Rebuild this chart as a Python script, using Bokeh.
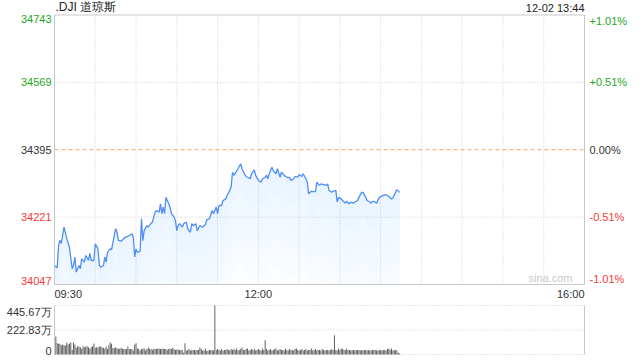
import numpy as np
from bokeh.plotting import figure
from bokeh.models import Label, Range1d, Grid
from bokeh.embed import file_html
from bokeh.resources import INLINE

# ---------------- data ----------------
minutes = [0, 2, 3, 4, 5, 7, 9, 11, 13, 14, 15, 16, 18, 19, 20, 22, 23, 25, 26, 27,
           29, 30, 32, 33, 34, 36, 37, 38, 39, 41, 42, 44, 45, 46, 47, 49, 50, 52, 54, 57,
           58, 59, 60, 61, 63, 64, 65, 66, 68, 69, 71, 72, 74, 75, 77, 78, 79, 80, 81, 82,
           83, 85, 86, 88, 89, 90, 91, 92, 94, 95, 97, 98, 100, 101, 102, 104, 105, 107, 109, 111,
           112, 114, 116, 117, 119, 120, 121, 123, 124, 126, 127, 129, 130, 131, 132, 134, 135, 137, 138, 140,
           141, 142, 144, 145, 147, 148, 150, 152, 153, 155, 156, 157, 158, 160, 161, 163, 164, 166, 167, 168,
           170, 171, 173, 174, 176, 177, 179, 180, 182, 183, 185, 186, 187, 189, 190, 192, 193, 195, 196, 198,
           200, 201, 202, 204, 205, 207, 208, 209, 211, 212, 214, 215, 217, 218, 220, 221, 223, 224, 226, 227,
           229, 230, 232, 233, 234, 236, 237, 239, 240, 242, 243, 245, 246, 248, 249, 251, 252, 254]
prices = [34096, 34090, 34148, 34161, 34153, 34195, 34166, 34143, 34088, 34096, 34118, 34079, 34096, 34088, 34114, 34105, 34122, 34109, 34128, 34109,
          34109, 34152, 34139, 34096, 34092, 34096, 34118, 34105, 34130, 34139, 34137, 34174, 34191, 34182, 34161, 34159, 34162, 34169, 34171, 34178,
          34169, 34118, 34139, 34130, 34133, 34217, 34160, 34186, 34199, 34195, 34205, 34208, 34234, 34238, 34234, 34255, 34230, 34247, 34230, 34272,
          34264, 34247, 34230, 34221, 34212, 34186, 34199, 34204, 34195, 34204, 34208, 34191, 34182, 34204, 34199, 34204, 34186, 34199, 34195, 34202,
          34214, 34217, 34238, 34230, 34247, 34230, 34251, 34251, 34264, 34268, 34277, 34290, 34300, 34337, 34329, 34340, 34346, 34359, 34346, 34331,
          34326, 34324, 34320, 34333, 34343, 34329, 34316, 34311, 34320, 34324, 34329, 34320, 34333, 34350, 34341, 34333, 34346, 34324, 34337, 34333,
          34326, 34324, 34323, 34316, 34320, 34326, 34324, 34331, 34326, 34333, 34320, 34311, 34281, 34288, 34287, 34287, 34311, 34303, 34307, 34305,
          34303, 34307, 34290, 34285, 34288, 34290, 34260, 34272, 34268, 34264, 34257, 34262, 34255, 34260, 34257, 34260, 34264, 34272, 34285, 34285,
          34272, 34264, 34260, 34257, 34262, 34260, 34257, 34272, 34274, 34277, 34279, 34277, 34274, 34268, 34271, 34285, 34292, 34285]

# volume per minute, in 万
volumes = [164, 103, 97, 97, 85, 91, 85, 82, 109, 91, 100, 109, 42, 109, 91, 61, 76, 73, 67, 52,
           76, 67, 73, 76, 67, 52, 67, 76, 100, 61, 67, 64, 73, 73, 67, 58, 52, 73, 49, 85,
           109, 97, 58, 58, 64, 58, 49, 55, 58, 52, 49, 49, 49, 73, 49, 49, 49, 36, 91, 103,
           55, 52, 36, 49, 52, 55, 36, 49, 64, 52, 49, 42, 49, 49, 49, 55, 52, 49, 49, 55,
           49, 49, 42, 49, 55, 49, 61, 49, 42, 45, 45, 42, 42, 42, 15, 103, 36, 42, 49, 36,
           42, 42, 42, 36, 42, 42, 64, 49, 36, 36, 55, 33, 33, 42, 42, 42, 36, 445, 42, 49,
           42, 36, 49, 36, 42, 42, 49, 42, 36, 49, 42, 49, 42, 55, 36, 42, 49, 61, 42, 42,
           49, 55, 36, 42, 49, 42, 52, 36, 42, 49, 42, 36, 55, 42, 130, 49, 36, 42, 49, 36,
           42, 49, 55, 36, 42, 49, 42, 42, 36, 55, 42, 36, 49, 42, 42, 36, 49, 55, 42, 36,
           42, 49, 36, 42, 49, 36, 42, 42, 55, 36, 42, 49, 36, 42, 42, 36, 49, 42, 36, 42,
           42, 36, 42, 49, 42, 174, 42, 36, 55, 42, 55, 49, 42, 42, 55, 42, 42, 36, 42, 42,
           36, 42, 42, 42, 36, 42, 36, 42, 42, 36, 42, 36, 36, 42, 42, 42, 36, 36, 42, 42,
           36, 42, 42, 36, 49, 55, 42, 55, 36, 42, 42, 36, 15, 9]

prev_close = 34395
price_ticks = [34047, 34221, 34395, 34569, 34743]
pct_labels = ["-1.01%", "-0.51%", "0.00%", "+0.51%", "+1.01%"]
session_end = 390                      # 09:30 -> 16:00, minutes
grid_minutes = list(range(30, 390, 30))
time_ticks = [0, 150, 390]
time_labels = ["09:30", "12:00", "16:00"]
vol_ticks = [0, 222.83, 445.67]
vol_labels = ["0", "222.83万", "445.67万"]
title_text = ".DJI 道琼斯"
stamp_text = "12-02 13:44"

GREEN = "#22a822"
RED = "#f03c3c"
DARK = "#333333"
GRID = "#cfcfcf"
BORDER = "#c8c8c8"
LINE = "#4f8ef5"
FONT = "Liberation Sans"

# ---------------- canvas geometry (pixels) ----------------
W, H = 640, 360
PL, PR = 54, 584            # panel left / right
MT, MB = 14.5, 284          # main panel top / bottom
VT, VB = 305, 354           # volume panel top / bottom

xs = session_end / (PR - PL)
x_range = Range1d(-PL * xs, session_end + (W - PR) * xs)
ps = (price_ticks[-1] - price_ticks[0]) / (MB - MT)
y_range = Range1d(price_ticks[0] - (H - MB) * ps, price_ticks[-1] + MT * ps)
vs = vol_ticks[-1] / (VB - VT)
vol_range = Range1d(-(H - VB) * vs, vol_ticks[-1] + VT * vs)

p = figure(width=W, height=H, x_range=x_range, y_range=y_range,
           x_axis_location=None, y_axis_location=None,
           output_backend="svg", toolbar_location=None, min_border=0)
p.extra_y_ranges = {"vol": vol_range}
p.center = [r for r in p.center if not isinstance(r, Grid)]
p.outline_line_color = None
p.background_fill_color = "white"
p.border_fill_color = "white"

lo_p, hi_p = price_ticks[0], price_ticks[-1]

# grid lines of the main panel
p.segment(x0=grid_minutes, x1=grid_minutes, y0=[lo_p] * len(grid_minutes),
          y1=[hi_p] * len(grid_minutes), line_color=GRID, line_dash="1 2", line_width=1)
p.segment(x0=[0, 0], x1=[session_end] * 2, y0=[price_ticks[1], price_ticks[3]],
          y1=[price_ticks[1], price_ticks[3]], line_color=GRID, line_dash="1 2", line_width=1)
p.segment(x0=[0], x1=[session_end], y0=[prev_close], y1=[prev_close],
          line_color="#f5a36a", line_dash="4 3", line_width=1)

# price area + line
x = np.array(minutes, dtype=float)
y = np.array(prices, dtype=float)
span = y.max() - lo_p
nb = 10
for k in range(1, nb + 1):
    low = np.maximum(y - span * k / nb, lo_p)
    p.varea(x=x, y1=low, y2=y, fill_color=LINE, fill_alpha=0.013)
p.line(x, y, line_color=LINE, line_width=1.3)

# main panel border
p.quad(left=[0], right=[session_end], bottom=[lo_p], top=[hi_p],
       fill_color=None, line_color=BORDER, line_width=1)

# volume panel
p.segment(x0=[0, 0], x1=[session_end] * 2, y0=vol_ticks[1:], y1=vol_ticks[1:],
          y_range_name="vol", line_color=GRID, line_dash="1 2", line_width=1)
p.segment(x0=[0], x1=[session_end], y0=[0], y1=[0],
          y_range_name="vol", line_color=GRID, line_dash="1 2", line_width=1)
p.segment(x0=[0, session_end], x1=[0, session_end], y0=[0, 0],
          y1=[vol_ticks[-1]] * 2, y_range_name="vol", line_color=BORDER, line_width=1)
vx = np.arange(1, len(volumes) + 1)
p.vbar(x=vx, top=volumes, bottom=0, width=0.7, y_range_name="vol",
       fill_color="#5a5a5a", line_color=None)

# ---------------- texts ----------------
def col(i):
    return GREEN if i > 2 else (RED if i < 2 else DARK)

for i, (t, pl) in enumerate(zip(price_ticks, pct_labels)):
    base = "top" if i == len(price_ticks) - 1 else ("bottom" if i == 0 else "middle")
    p.add_layout(Label(x=51, y=t, x_units="screen", text=str(t), text_align="right",
                       text_baseline=base, text_font=FONT, text_font_size="11px",
                       text_color=col(i)))
    p.add_layout(Label(x=589, y=t, x_units="screen", text=pl, text_align="left",
                       text_baseline=base, text_font=FONT, text_font_size="11px",
                       text_color=col(i)))

aligns = ["left", "center", "right"]
for t, lab, al in zip(time_ticks, time_labels, aligns):
    p.add_layout(Label(x=t, y=lo_p, text=lab, text_align=al, text_baseline="top",
                       y_offset=-3, text_font=FONT, text_font_size="11px", text_color=DARK))

p.add_layout(Label(x=55, y=hi_p, x_units="screen", text=title_text,
                   text_align="left", text_baseline="bottom", y_offset=1,
                   text_font=FONT, text_font_size="12px", text_color="#222222"))
p.add_layout(Label(x=584, y=hi_p, x_units="screen", text=stamp_text,
                   text_align="right", text_baseline="bottom", y_offset=1,
                   text_font=FONT, text_font_size="11px", text_color="#222222"))
p.add_layout(Label(x=572, y=lo_p, x_units="screen", text="sina.com",
                   text_align="right", text_baseline="bottom", y_offset=1,
                   text_font=FONT, text_font_size="11px", text_color="#c8c8c8"))

for i, (t, lab) in enumerate(zip(vol_ticks, vol_labels)):
    base = "top" if i == len(vol_ticks) - 1 else ("bottom" if i == 0 else "middle")
    p.add_layout(Label(x=51, y=t, x_units="screen", y_range_name="vol", text=lab,
                       text_align="right", text_baseline=base, text_font=FONT,
                       text_font_size="11px", text_color=DARK))

open("out.html", "w").write(file_html(p, INLINE))
